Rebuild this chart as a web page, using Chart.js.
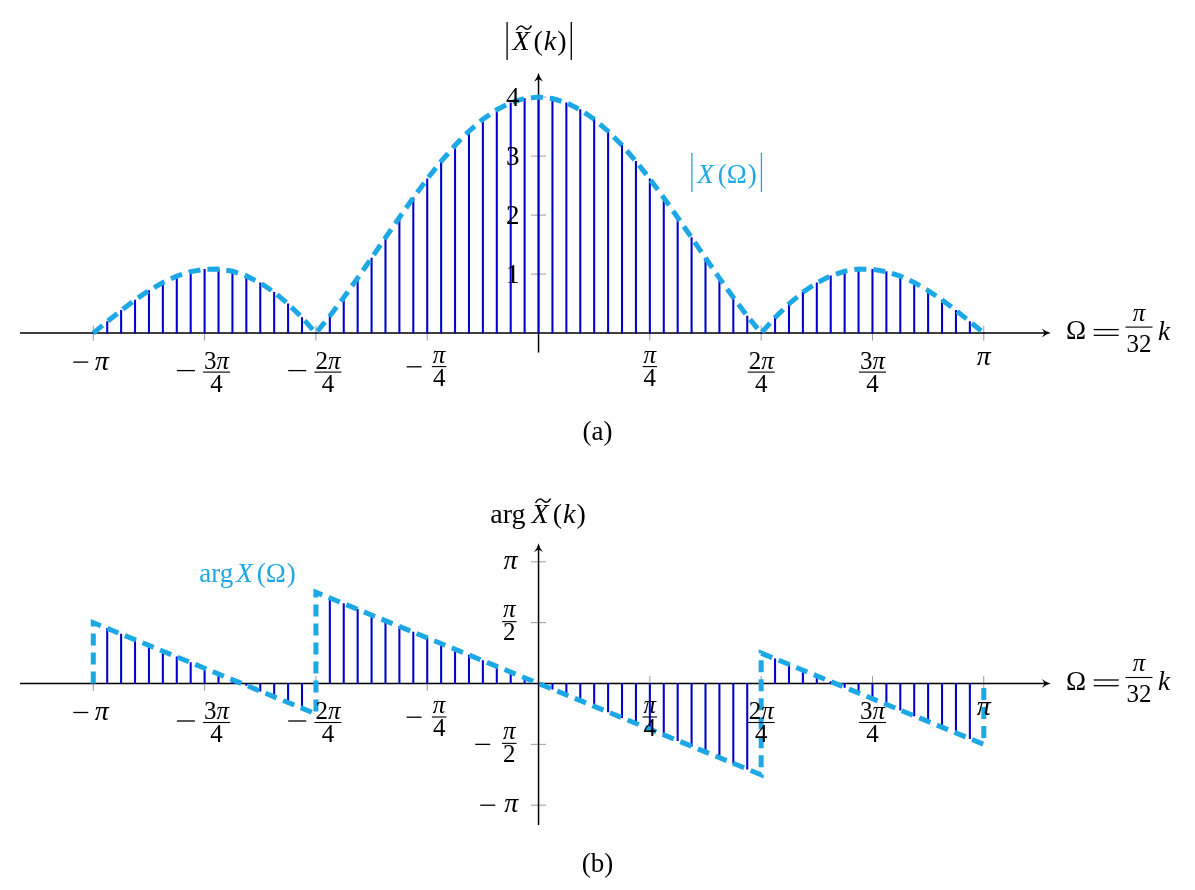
<!DOCTYPE html>
<html><head><meta charset="utf-8">
<script src="https://cdn.jsdelivr.net/npm/chart.js@4.4.1/dist/chart.umd.min.js"></script>
<style>
html,body{margin:0;padding:0;background:#fff;width:1195px;height:890px;overflow:hidden}
canvas{position:absolute;left:0}
</style></head>
<body>
<canvas id="topChart" width="1195" height="460" style="top:0px"></canvas>
<canvas id="botChart" width="1195" height="430" style="top:460px"></canvas>
<script>
// ---------------- data ----------------
const k = [-32,-31,-30,-29,-28,-27,-26,-25,-24,-23,-22,-21,-20,-19,-18,-17,-16,-15,-14,-13,-12,-11,-10,-9,-8,-7,-6,-5,-4,-3,-2,-1,
           0,1,2,3,4,5,6,7,8,9,10,11,12,13,14,15,16,17,18,19,20,21,22,23,24,25,26,27,28,29,30,31,32];
const magnitude = [0,0.1953,0.3845,0.5616,0.7210,0.8572,0.9655,1.0417,1.0824,1.0850,1.0476,0.9694,0.8504,0.6917,0.4951,0.2633,
  0,0.2905,0.6032,0.9326,1.2728,1.6173,1.9599,2.2939,2.6131,2.9113,3.1827,3.4220,3.6245,3.7864,3.9042,3.9759,
  4,
  3.9759,3.9042,3.7864,3.6245,3.4220,3.1827,2.9113,2.6131,2.2939,1.9599,1.6173,1.2728,0.9326,0.6032,0.2905,
  0,0.2633,0.4951,0.6917,0.8504,0.9694,1.0476,1.0850,1.0824,1.0417,0.9655,0.8572,0.7210,0.5616,0.3845,0.1953,0];
// phase in multiples of pi
const phaseOverPi = [0,0.4531,0.4063,0.3594,0.3125,0.2656,0.2188,0.1719,0.125,0.0781,0.0313,-0.0156,-0.0625,-0.1094,-0.1563,-0.2031,
  0,0.7031,0.6563,0.6094,0.5625,0.5156,0.4688,0.4219,0.375,0.3281,0.2813,0.2344,0.1875,0.1406,0.0938,0.0469,
  0,
  -0.0469,-0.0938,-0.1406,-0.1875,-0.2344,-0.2813,-0.3281,-0.375,-0.4219,-0.4688,-0.5156,-0.5625,-0.6094,-0.6563,-0.7031,
  0,0.2031,0.1563,0.1094,0.0625,0.0156,-0.0313,-0.0781,-0.125,-0.1719,-0.2188,-0.2656,-0.3125,-0.3594,-0.4063,-0.4531,0];
const phaseEnvK = [-32,-32,-16,-16,16,16,32,32];
const phaseEnvValue = [0,0.5,-0.25,0.75,-0.75,0.25,-0.5,0];
const xTicks = [-32,-24,-16,-8,8,16,24,32];
const xTickLabels = ['−π','−3π/4','−2π/4','−π/4','π/4','2π/4','3π/4','π'];
const magTicks = [1,2,3,4];
const magTickLabels = ['1','2','3','4'];
const phaseTicks = [-1,-0.5,0.5,1];
const phaseTickLabels = ['−π','−π/2','π/2','π'];

// ---------------- styling helpers ----------------
const CYAN = '#1ba8e4';
const STEM = '#0000cc';
const SERIF = '"Liberation Serif","Times New Roman",serif';
function F(size, italic){ return (italic ? 'italic ' : '') + size + 'px ' + SERIF; }
function txt(ctx, s, x, y, font, align, color){
  ctx.font = font; ctx.textAlign = align || 'left'; ctx.textBaseline = 'alphabetic';
  ctx.fillStyle = color || '#000'; ctx.fillText(s, x, y);
}
function mathParts(s, size){ return Array.from(s).map(ch => [ch, F(size, /[πa-zA-Z]/.test(ch))]); }
// parts: [text, font, gapAfter]
function runsWidth(ctx, parts){ let w = 0; parts.forEach(p => { ctx.font = p[1]; w += ctx.measureText(p[0]).width + (p[2] || 0); }); return w; }
function drawRuns(ctx, parts, x, y, align, color){
  const w = runsWidth(ctx, parts);
  let cx = align === 'center' ? x - w/2 : (align === 'right' ? x - w : x);
  const pos = [];
  parts.forEach(p => { pos.push(cx); txt(ctx, p[0], cx, y, p[1], 'left', color); ctx.font = p[1]; cx += ctx.measureText(p[0]).width + (p[2] || 0); });
  return { left: align === 'center' ? x - w/2 : (align === 'right' ? x - w : x), right: cx, pos };
}
function hline(ctx, x1, x2, y, t, color){ ctx.fillStyle = color || '#000'; ctx.fillRect(x1, y - t/2, x2 - x1, t); }
function frac(ctx, num, den, cx, barY, numBase, denBase, size){
  const np = mathParts(num, size), dp = mathParts(den, size);
  const w = Math.max(runsWidth(ctx, np), runsWidth(ctx, dp));
  drawRuns(ctx, np, cx, numBase, 'center'); drawRuns(ctx, dp, cx, denBase, 'center');
  hline(ctx, cx - w/2 - 1, cx + w/2 + 1, barY, 1.1);
}
function arrowRight(ctx, tx, y){
  ctx.beginPath(); ctx.moveTo(tx, y);
  ctx.quadraticCurveTo(tx-4, y-0.8, tx-9, y-4.5);
  ctx.quadraticCurveTo(tx-6.5, y-1.5, tx-6.5, y);
  ctx.quadraticCurveTo(tx-6.5, y+1.5, tx-9, y+4.5);
  ctx.quadraticCurveTo(tx-4, y+0.8, tx, y);
  ctx.closePath(); ctx.fill();
}
function arrowUp(ctx, x, ty){
  ctx.beginPath(); ctx.moveTo(x, ty);
  ctx.quadraticCurveTo(x-0.8, ty+4, x-4.5, ty+9);
  ctx.quadraticCurveTo(x-1.5, ty+6.5, x, ty+6.5);
  ctx.quadraticCurveTo(x+1.5, ty+6.5, x+4.5, ty+9);
  ctx.quadraticCurveTo(x+0.8, ty+4, x, ty);
  ctx.closePath(); ctx.fill();
}
function tilde(ctx, x, y, color){
  ctx.save(); ctx.strokeStyle = color || '#000'; ctx.lineWidth = 1.5; ctx.beginPath();
  ctx.moveTo(x, y+2.5);
  ctx.bezierCurveTo(x+2.5, y-2.5, x+5.5, y-2, x+7.5, y);
  ctx.bezierCurveTo(x+9.5, y+2, x+12.5, y+3, x+15, y-2);
  ctx.stroke(); ctx.restore();
}
function xTickLabel(ctx, x, y0, lab){
  const neg = lab[0] === '−'; const body = neg ? lab.slice(1) : lab;
  if (body.includes('/')) {
    const [num, den] = body.split('/');
    if (num === 'π') {
      frac(ctx, num, den, neg ? x + 11.9 : x, y0 + 33.5, y0 + 30, y0 + 52.5, 25);
      if (neg) hline(ctx, x - 20.6, x - 5.6, y0 + 33.7, 1.3);
    } else {
      frac(ctx, num, den, neg ? x + 12 : x, y0 + 39, y0 + 36, y0 + 58.5, 25);
      if (neg) hline(ctx, x - 27.7, x - 9.7, y0 + 37.5, 1.3);
    }
  } else {
    if (neg) { hline(ctx, x - 20, x - 5, y0 + 29, 1.3); txt(ctx, 'π', x + 1.5, y0 + 37, F(28, true)); }
    else txt(ctx, 'π', x, y0 + 32, F(28, true), 'center');
  }
}
function omegaLabel(ctx, tip, y0){
  txt(ctx, 'Ω', tip + 15.3, y0 + 6.3, F(27));
  hline(ctx, tip + 43, tip + 68, y0 - 3.5, 1.3);
  hline(ctx, tip + 43, tip + 68, y0 + 2.2, 1.3);
  frac(ctx, 'π', '32', tip + 88.3, y0 - 6, y0 - 12, y0 + 19, 25);
  txt(ctx, 'k', tip + 107.3, y0 + 7, F(27, true));
}

function makeAxesPlugin(name, yTicks, drawLabels){
  return {
    id: 'axes_' + name,
    beforeDatasetsDraw(chart){
      const ctx = chart.ctx, xs = chart.scales.x, ys = chart.scales.y, a = chart.chartArea;
      const x0 = xs.getPixelForValue(0), y0 = ys.getPixelForValue(0);
      ctx.save();
      ctx.strokeStyle = '#9a9a9a'; ctx.lineWidth = 1; ctx.beginPath();
      xTicks.forEach(t => { const x = xs.getPixelForValue(t); ctx.moveTo(x, y0 - 7.5); ctx.lineTo(x, y0 + 7.5); });
      yTicks.forEach(t => { const y = ys.getPixelForValue(t); ctx.moveTo(x0 - 7.5, y); ctx.lineTo(x0 + 7.5, y); });
      ctx.stroke();
      ctx.strokeStyle = '#000'; ctx.lineWidth = 1.5; ctx.beginPath();
      ctx.moveTo(a.left, y0); ctx.lineTo(a.right - 6, y0);
      ctx.moveTo(x0, a.bottom); ctx.lineTo(x0, a.top + 6);
      ctx.stroke();
      ctx.fillStyle = '#000'; arrowRight(ctx, a.right, y0); arrowUp(ctx, x0, a.top);
      ctx.restore();
    },
    afterDatasetsDraw(chart){
      const ctx = chart.ctx, xs = chart.scales.x, ys = chart.scales.y, a = chart.chartArea;
      const x0 = xs.getPixelForValue(0), y0 = ys.getPixelForValue(0);
      ctx.save();
      xTicks.forEach((t, i) => xTickLabel(ctx, xs.getPixelForValue(t), y0, xTickLabels[i]));
      omegaLabel(ctx, a.right, y0);
      drawLabels(ctx, xs, ys, x0, y0, a);
      ctx.restore();
    }
  };
}

const XMIN = -37.268, XMAX = 36.81;
function baseOptions(ymin, ymax, pad){
  return {
    responsive: false, animation: false, devicePixelRatio: 1,
    layout: { padding: pad },
    plugins: { legend: { display: false }, tooltip: { enabled: false }, title: { display: false } },
    scales: {
      x: { type: 'linear', min: XMIN, max: XMAX, display: false, offset: false },
      y: { type: 'linear', min: ymin, max: ymax, display: false }
    }
  };
}
const DASH = [12, 7], DASHW = 5, STEMW = 1.4;

// ---------------- top chart: magnitude ----------------
new Chart(document.getElementById('topChart'), {
  type: 'bar',
  data: {
    datasets: [
      { type: 'line', data: k.map((v, i) => ({ x: v, y: magnitude[i] })), borderColor: CYAN, borderWidth: DASHW,
        borderDash: DASH, pointRadius: 0, tension: 0, fill: false, clip: false, order: 0 },
      { type: 'bar', data: k.map((v, i) => ({ x: v, y: magnitude[i] })), backgroundColor: STEM, borderWidth: 0,
        barThickness: STEMW, order: 1 }
    ]
  },
  options: baseOptions(-0.3288, 4.4136, { left: 20, right: 144.3, top: 72.7, bottom: 107.5 }),
  plugins: [makeAxesPlugin('top', magTicks, (ctx, xs, ys, x0, y0, a) => {
    magTicks.forEach((t, i) => txt(ctx, magTickLabels[i], x0 - 19, ys.getPixelForValue(t) + 9.3, F(27), 'right'));
    // y-axis title |X~(k)|
    const tp = [['X', F(28, true), 4], ['(', F(28), 1], ['k', F(28, true), 1], [')', F(28), 0]];
    const r = drawRuns(ctx, tp, x0 + 1, 50, 'center');
    ctx.fillStyle = '#000';
    ctx.fillRect(r.left - 6, 22, 1.3, 38);
    ctx.fillRect(r.right + 4, 22, 1.3, 38);
    tilde(ctx, r.pos[0] + 4, 27.5);
    // envelope label |X(Ω)|
    const ep = [['X', F(27, true), 4], ['(', F(27), 0], ['Ω', F(27), 1], [')', F(27), 0]];
    const r2 = drawRuns(ctx, ep, 727, 183.3, 'center', CYAN);
    ctx.fillStyle = CYAN;
    ctx.fillRect(r2.left - 6, 153, 1.3, 39);
    ctx.fillRect(r2.right + 4, 153, 1.3, 39);
    // caption
    txt(ctx, '(a)', 597.5, 440, F(27), 'center');
  })]
});

// ---------------- bottom chart: phase ----------------
const OFF = 460;
new Chart(document.getElementById('botChart'), {
  type: 'bar',
  data: {
    datasets: [
      { type: 'line', data: phaseEnvK.map((v, i) => ({ x: v, y: phaseEnvValue[i] })), borderColor: CYAN, borderWidth: DASHW,
        borderDash: DASH, pointRadius: 0, tension: 0, fill: false, clip: false, order: 0 },
      { type: 'bar', data: k.map((v, i) => ({ x: v, y: phaseOverPi[i] })), backgroundColor: STEM, borderWidth: 0,
        barThickness: STEMW, order: 1 }
    ]
  },
  options: baseOptions(-1.1627, 1.152, { left: 20, right: 144.3, top: 543.3 - OFF, bottom: 430 - (825 - OFF) }),
  plugins: [makeAxesPlugin('bot', phaseTicks, (ctx, xs, ys, x0, y0, a) => {
    phaseTicks.forEach((t, i) => {
      const ty = ys.getPixelForValue(t), lab = phaseTickLabels[i];
      if (lab === 'π') txt(ctx, 'π', x0 - 21, ty + 7, F(28, true), 'right');
      else if (lab === '−π') { hline(ctx, x0 - 58.3, x0 - 43.3, ty, 1.3); txt(ctx, 'π', x0 - 20.3, ty + 6.5, F(28, true), 'right'); }
      else {
        frac(ctx, 'π', '2', x0 - 29.3, ty - 1, ty - 5.4, ty + 17.3, 25);
        if (lab[0] === '−') hline(ctx, x0 - 63.3, x0 - 48.3, ty, 1.3);
      }
    });
    ctx.translate(0, -OFF);
    // y-axis title arg X~(k)
    const tp = [['arg', F(28), 6], ['X', F(28, true), 4], ['(', F(28), 1], ['k', F(28, true), 1], [')', F(28), 0]];
    const r = drawRuns(ctx, tp, 538, 523, 'center');
    tilde(ctx, r.pos[1] + 4, 500.5);
    // envelope label arg X(Ω)
    const ep = [['arg', F(27), 3], ['X', F(27, true), 4], ['(', F(27), 0], ['Ω', F(27), 1], [')', F(27), 0]];
    drawRuns(ctx, ep, 247.5, 582, 'center', CYAN);
    // caption
    txt(ctx, '(b)', 597.5, 872, F(27), 'center');
  })]
});
</script>
</body></html>
